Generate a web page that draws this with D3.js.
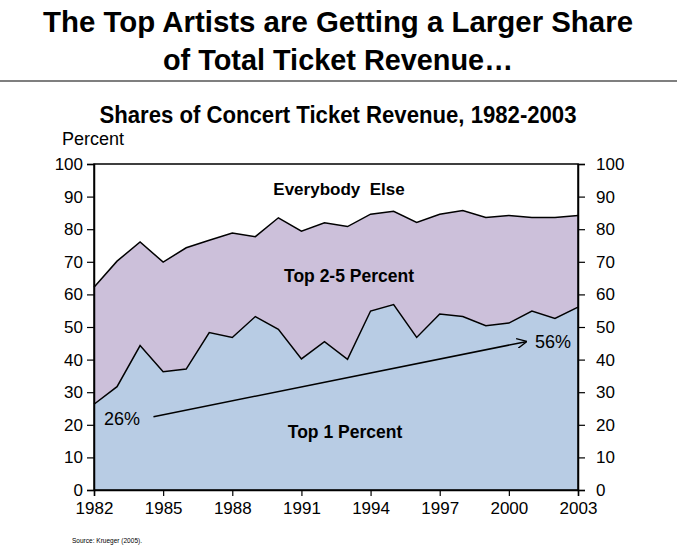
<!DOCTYPE html>
<html><head><meta charset="utf-8">
<script src="https://cdn.jsdelivr.net/npm/d3@7"></script>
<style>body{margin:0;background:#fff}svg{display:block}text{font-family:"Liberation Sans",Arial,sans-serif}</style>
</head><body>
<svg id="c" width="677" height="552"></svg>
<script>
const years = [1982,1983,1984,1985,1986,1987,1988,1989,1990,1991,1992,1993,1994,1995,1996,1997,1998,1999,2000,2001,2002,2003];
const top1 = [26.3,31.7,44.3,36.3,37.1,48.3,46.8,53.2,49.3,40.2,45.5,40.1,54.9,56.9,46.8,54.0,53.2,50.4,51.2,54.9,52.6,56.1];
const top5 = [62.2,70.2,76.1,69.9,74.3,76.6,78.8,77.7,83.5,79.4,82.0,80.8,84.6,85.5,82.1,84.6,85.7,83.6,84.2,83.6,83.6,84.2];
const yTicks = [0,10,20,30,40,50,60,70,80,90,100];
const xTicks = [1982,1985,1988,1991,1994,1997,2000,2003];
const trendStart = {year:1984.58, value:22.5, label:"26%"};
const trendEnd = {year:2000.74, value:45.5, label:"56%"};

const svg = d3.select("#c");
const L=94, R=578, T=164, B=490;
const x = d3.scaleLinear().domain([1982,2003]).range([L,R]);
const y = d3.scaleLinear().domain([0,100]).range([B,T]);

// Titles
svg.append("text").attr("x",338).attr("y",32).attr("text-anchor","middle")
  .attr("font-size",30).attr("font-weight","bold").attr("textLength",590).attr("lengthAdjust","spacingAndGlyphs")
  .text("The Top Artists are Getting a Larger Share");
svg.append("text").attr("x",338).attr("y",70).attr("text-anchor","middle")
  .attr("font-size",30).attr("font-weight","bold").attr("textLength",350).attr("lengthAdjust","spacingAndGlyphs")
  .text("of Total Ticket Revenue…");
svg.append("line").attr("x1",0).attr("x2",677).attr("y1",81).attr("y2",81).attr("stroke","#000").attr("stroke-width",1.2);
svg.append("text").attr("x",338).attr("y",123).attr("text-anchor","middle")
  .attr("font-size",23).attr("font-weight","bold").attr("textLength",477).attr("lengthAdjust","spacingAndGlyphs")
  .text("Shares of Concert Ticket Revenue, 1982-2003");
svg.append("text").attr("x",62).attr("y",145).attr("font-size",18).text("Percent");

// Areas
const areaTop5 = d3.area().x((d,i)=>x(years[i])).y0((d,i)=>y(top1[i])).y1(d=>y(d));
const areaTop1 = d3.area().x((d,i)=>x(years[i])).y0(y(0)).y1(d=>y(d));
svg.append("path").datum(top5).attr("d",areaTop5).attr("fill","#ccc0da");
svg.append("path").datum(top1).attr("d",areaTop1).attr("fill","#b8cce4");
const ln = d3.line().x((d,i)=>x(years[i])).y(d=>y(d));
svg.append("path").datum(top5).attr("d",ln).attr("fill","none").attr("stroke","#000").attr("stroke-width",1.5);
svg.append("path").datum(top1).attr("d",ln).attr("fill","none").attr("stroke","#000").attr("stroke-width",1.5);

// Frame
svg.append("rect").attr("x",L).attr("y",T).attr("width",R-L).attr("height",B-T)
  .attr("fill","none").attr("stroke","#000").attr("stroke-width",1.5);

// Axes
const gl = svg.append("g").attr("transform",`translate(${L},0)`)
  .call(d3.axisLeft(y).tickValues(yTicks).tickSize(7).tickPadding(4));
const gr = svg.append("g").attr("transform",`translate(${R},0)`)
  .call(d3.axisRight(y).tickValues(yTicks).tickSize(7).tickPadding(11));
const gb = svg.append("g").attr("transform",`translate(0,${B})`)
  .call(d3.axisBottom(x).tickValues(xTicks).tickFormat(d3.format("d")).tickSize(6).tickPadding(6));
[gl,gr,gb].forEach(g=>{
  g.select(".domain").attr("stroke-width",1.5);
  g.selectAll(".tick line").attr("stroke-width",1.2);
  g.selectAll("text").attr("font-size",17).attr("font-family","Liberation Sans, Arial, sans-serif").attr("fill","#000");
});

// Trend arrow
svg.append("defs").append("marker").attr("id","ah").attr("viewBox","0 0 10 10").attr("refX",9).attr("refY",5)
  .attr("markerWidth",10).attr("markerHeight",10).attr("markerUnits","userSpaceOnUse").attr("orient","auto")
  .append("path").attr("d","M0,0 L10,5 L0,10").attr("fill","none").attr("stroke","#000").attr("stroke-width",1.3);
svg.append("line").attr("x1",x(trendStart.year)).attr("y1",y(trendStart.value))
  .attr("x2",x(trendEnd.year)).attr("y2",y(trendEnd.value))
  .attr("stroke","#000").attr("stroke-width",1.5).attr("marker-end","url(#ah)");
svg.append("text").attr("x",104).attr("y",425).attr("font-size",18).text(trendStart.label);
svg.append("text").attr("x",535).attr("y",348).attr("font-size",18).text(trendEnd.label);

// Region labels
svg.append("text").attr("x",345).attr("y",438).attr("text-anchor","middle").attr("font-size",17.5).attr("font-weight","bold").text("Top 1 Percent");
svg.append("text").attr("x",349).attr("y",282).attr("text-anchor","middle").attr("font-size",17.5).attr("font-weight","bold").text("Top 2-5 Percent");
svg.append("text").attr("x",339).attr("y",195).attr("text-anchor","middle").attr("font-size",17).attr("font-weight","bold").attr("xml:space","preserve").text("Everybody  Else");

// Source
svg.append("text").attr("x",72).attr("y",543).attr("font-size",7.5).attr("textLength",70).attr("lengthAdjust","spacingAndGlyphs").text("Source: Krueger (2005).");
</script>
</body></html>
